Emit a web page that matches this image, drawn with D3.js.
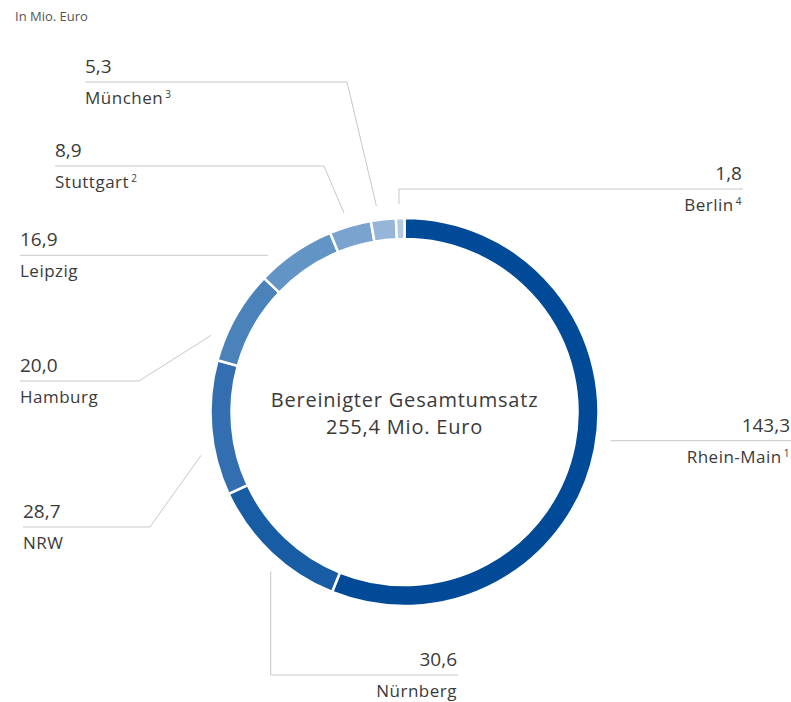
<!DOCTYPE html>
<html>
<head>
<meta charset="utf-8">
<script src="https://cdn.jsdelivr.net/npm/d3@7"></script>
<style>
  body { margin: 0; background: #fff; }
  text { font-family: "Open Sans", sans-serif; fill: #3a3a3a; }
</style>
</head>
<body>
<div id="chart"></div>
<script>
// Umsatz je Region, in Mio. Euro
const regions = ["Rhein-Main", "Nürnberg", "NRW", "Hamburg", "Leipzig", "Stuttgart", "München", "Berlin"];
const footnotes = ["1", "", "", "", "", "2", "3", "4"];
const revenue = [143.3, 30.6, 28.7, 20.0, 16.9, 8.9, 5.3, 1.8];
const valueLabels = ["143,3", "30,6", "28,7", "20,0", "16,9", "8,9", "5,3", "1,8"];
const colors = ["#004a98", "#185ca4", "#336fb0", "#4a82ba", "#6294c6", "#7aa3cf", "#97b5d9", "#b4c9e3"];
const centerLines = ["Bereinigter Gesamtumsatz", "255,4 Mio. Euro"];
const unitLabel = "In Mio. Euro";

// where each leader line hits its slice and where the label sits
const labelLayout = [
    { at: 0.485, mode: "h", x: 791, anchor: "end" },
    { at: 0.42, mode: "v", y: 675, x: 458, anchor: "end" },
    { at: 0.32, mode: "d", ex: 150, y: 527, x: 23, anchor: "start" },
    { at: 0.22, mode: "d", ex: 139, y: 381, x: 20, anchor: "start" },
    { at: 0.22, mode: "h", x: 20, anchor: "start" },
    { at: 0.45, mode: "d", ex: 324, y: 166, x: 55, anchor: "start" },
    { at: 0.30, mode: "d", ex: 347, y: 82, x: 85, anchor: "start" },
    { at: 0.40, mode: "v", y: 189, x: 743, anchor: "end" }
];

const svgWidth = 791;
const svgHeight = 702;
const cx = 404.5, cy = 412;
const outerR = 194, innerR = 173, leaderR = 208;

const svg = d3.select('#chart')
    .append('svg')
    .attr('width', svgWidth)
    .attr('height', svgHeight);

svg.append('text')
    .attr('x', 15)
    .attr('y', 21)
    .style('font-size', '13px')
    .style('fill', '#555')
    .text(unitLabel);

const pie = d3.pie().sort(null).value(d => d);
const arcs = pie(revenue);

const arc = d3.arc().innerRadius(innerR).outerRadius(outerR);

const g = svg.append('g')
    .attr('transform', 'translate(' + cx + ',' + cy + ')');

g.selectAll('.slice')
    .data(arcs)
    .enter().append('path')
    .attr('class', 'slice')
    .attr('d', arc)
    .attr('fill', (d, i) => colors[i])
    .attr('stroke', '#fff')
    .attr('stroke-width', 2.5);

// center text
g.selectAll('.center')
    .data(centerLines)
    .enter().append('text')
    .attr('class', 'center')
    .attr('x', 0)
    .attr('y', (d, i) => -5 + i * 27)
    .attr('text-anchor', 'middle')
    .style('font-size', '20px')
    .style('letter-spacing', '0.8px')
    .text(d => d);

// leader lines + labels
const labels = svg.append('g');

arcs.forEach((a, i) => {
    const l = labelLayout[i];
    const ang = a.startAngle + (a.endAngle - a.startAngle) * l.at;
    const sx = cx + leaderR * Math.sin(ang);
    const sy = cy - leaderR * Math.cos(ang);
    let pts, lineY;
    if (l.mode === 'h') {
        lineY = sy;
        pts = [[sx, sy], [l.x, sy]];
    } else if (l.mode === 'v') {
        lineY = l.y;
        pts = [[sx, sy], [sx, l.y], [l.x, l.y]];
    } else {
        lineY = l.y;
        pts = [[sx, sy], [l.ex, l.y], [l.x, l.y]];
    }

    labels.append('path')
        .attr('d', d3.line()(pts))
        .attr('fill', 'none')
        .attr('stroke', '#c8c8c8')
        .attr('stroke-width', 1);

    const tx = l.anchor === 'end' ? l.x - 1 : l.x;

    labels.append('text')
        .attr('x', tx)
        .attr('y', lineY - 9)
        .attr('text-anchor', l.anchor)
        .style('font-size', '19px')
        .text(valueLabels[i]);

    const name = labels.append('text')
        .attr('x', tx)
        .attr('y', Math.min(lineY + 22, svgHeight - 5))
        .attr('text-anchor', l.anchor)
        .style('font-size', '17px')
        .style('letter-spacing', '0.5px');
    name.append('tspan').text(regions[i]);
    if (footnotes[i]) {
        name.append('tspan')
            .attr('dx', 2)
            .attr('dy', -6)
            .style('font-size', '10px')
            .text(footnotes[i]);
    }
});
</script>
</body>
</html>
